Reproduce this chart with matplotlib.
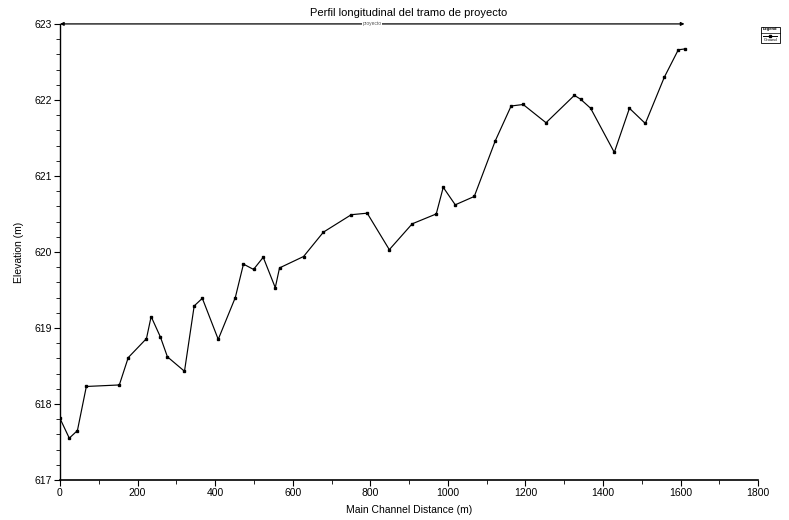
import matplotlib
matplotlib.use("Agg")
import matplotlib.pyplot as plt
from matplotlib.ticker import MultipleLocator
from matplotlib.patches import Rectangle
from matplotlib.lines import Line2D

plt.rcParams['font.family'] = ['Liberation Sans', 'DejaVu Sans']

# main channel distance (m) and ground elevation (m)
distance = [0, 24, 45, 68, 153, 176, 223, 235, 259, 277, 321, 346, 367, 408,
            452, 473, 499, 524, 555, 566, 628, 679, 751, 792, 849, 908, 970,
            988, 1019, 1068, 1122, 1163, 1194, 1253, 1326, 1342, 1368, 1429,
            1468, 1509, 1558, 1594, 1610]
elevation = [617.81, 617.55, 617.65, 618.23, 618.25, 618.61, 618.86, 619.15,
             618.88, 618.62, 618.43, 619.29, 619.39, 618.85, 619.40, 619.84,
             619.77, 619.93, 619.53, 619.79, 619.94, 620.26, 620.49, 620.51,
             620.03, 620.37, 620.50, 620.85, 620.62, 620.73, 621.46, 621.92,
             621.94, 621.70, 622.06, 622.01, 621.89, 621.31, 621.89, 621.69,
             622.30, 622.66, 622.67]
reach_name = "proyecto"
reach_start, reach_end = 0, 1610

fig = plt.figure(figsize=(7.89, 5.20), dpi=100)
ax = fig.add_axes([0.076, 0.077, 0.885, 0.877])

ax.plot(distance, elevation, color='black', lw=0.85, marker='s', ms=2.0,
        mfc='black', mec='black')

# reach extent arrow along the top
ax.annotate('', xy=(reach_start, 623), xytext=(reach_end, 623),
            arrowprops=dict(arrowstyle='<|-|>', color='black', lw=0.9,
                            mutation_scale=5, shrinkA=0, shrinkB=0),
            annotation_clip=False)
ax.text((reach_start + reach_end) / 2, 623, reach_name, fontsize=3.5,
        color='#555555', ha='center', va='center',
        bbox=dict(facecolor='white', edgecolor='none', pad=0.5))

ax.set_xlim(0, 1800)
ax.set_ylim(617, 623)
ax.xaxis.set_major_locator(MultipleLocator(200))
ax.xaxis.set_minor_locator(MultipleLocator(100))
ax.yaxis.set_major_locator(MultipleLocator(1))
ax.yaxis.set_minor_locator(MultipleLocator(0.2))
ax.tick_params(which='both', direction='out', labelsize=7.5, color='black', pad=1.5)
ax.tick_params(which='major', length=4)
ax.tick_params(which='minor', length=3)
ax.spines['top'].set_visible(False)
ax.spines['right'].set_visible(False)
ax.spines['left'].set_linewidth(1.0)
ax.spines['bottom'].set_linewidth(1.2)

ax.set_xlabel('Main Channel Distance (m)', fontsize=7.5, labelpad=5)
ax.set_ylabel('Elevation (m)', fontsize=7.5, labelpad=8)
ax.set_title('Perfil longitudinal del tramo de proyecto', fontsize=8, pad=6)

# small legend box at the right edge
lx, ly, lw, lh = 0.964, 0.917, 0.024, 0.032
fig.patches.append(Rectangle((lx, ly), lw, lh, transform=fig.transFigure,
                             fill=False, edgecolor='black', lw=0.6))
fig.lines.append(Line2D([lx, lx + lw], [ly + lh * 0.64] * 2,
                        transform=fig.transFigure, color='black', lw=0.5))
fig.lines.append(Line2D([lx + 0.003, lx + lw / 2, lx + lw - 0.003],
                        [ly + lh * 0.44] * 3,
                        transform=fig.transFigure, color='black', lw=0.7,
                        marker='s', ms=1.6, markevery=[1]))
fig.text(lx + lw / 2, ly + lh * 0.83, 'Legend', fontsize=3, ha='center',
         va='center', weight='bold')
fig.text(lx + lw / 2, ly + lh * 0.2, 'Ground', fontsize=3, ha='center',
         va='center')

fig.savefig('out.png', dpi=100)
